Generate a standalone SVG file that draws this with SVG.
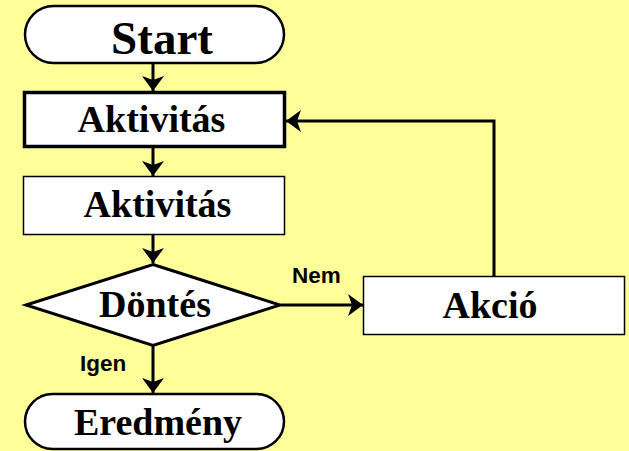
<svg xmlns="http://www.w3.org/2000/svg" width="629" height="451" viewBox="0 0 629 451">
  <defs>
    <marker id="arrow" markerUnits="userSpaceOnUse" markerWidth="24" markerHeight="24" viewBox="-16 -12 18 24" refX="0" refY="0" orient="auto">
      <path d="M0,0 L-15,-11 L-11,0 L-15,11 Z" fill="#000"/>
    </marker>
    <style>
      .node { fill: #fff; stroke: #000; }
      .serif { font-family: "Liberation Serif", "Times New Roman", serif; font-weight: bold; fill: #000; text-anchor: middle; }
      .lbl { font-family: "Liberation Sans", Arial, sans-serif; font-weight: bold; font-size: 22.5px; fill: #000; }
      .conn { fill: none; stroke: #000; stroke-width: 3; marker-end: url(#arrow); }
    </style>
  </defs>

  <rect width="629" height="451" fill="#FFFF99"/>

  <g id="connectors">
    <line class="conn" x1="153" y1="64" x2="153" y2="91"/>
    <line class="conn" x1="153" y1="148" x2="153" y2="176"/>
    <line class="conn" x1="153" y1="235" x2="153" y2="263"/>
    <line class="conn" x1="153" y1="346" x2="153" y2="393"/>
    <line class="conn" x1="281" y1="305" x2="363" y2="305"/>
    <polyline class="conn" points="494,276 494,121 286,121"/>
    <text class="lbl" x="80" y="371">Igen</text>
    <text class="lbl" x="292" y="283">Nem</text>
  </g>

  <g id="start">
    <rect class="node" x="25" y="6" width="259" height="57" rx="28.5" stroke-width="2.5"/>
    <text class="serif" x="162" y="54" font-size="47">Start</text>
  </g>

  <g id="aktivitas1">
    <rect class="node" x="24.5" y="92.5" width="260" height="54" stroke-width="3.5"/>
    <text class="serif" x="151.5" y="132" font-size="38">Aktivitás</text>
  </g>

  <g id="aktivitas2">
    <rect class="node" x="23.5" y="176.5" width="261" height="58" stroke-width="1.5"/>
    <text class="serif" x="157.5" y="217" font-size="38">Aktivitás</text>
  </g>

  <g id="dontes">
    <polygon class="node" points="153,264.5 280,305 153,345.5 26,305" stroke-width="3"/>
    <text class="serif" x="155" y="317" font-size="38">Döntés</text>
  </g>

  <g id="akcio">
    <rect class="node" x="363.5" y="276.5" width="261" height="58" stroke-width="1.5"/>
    <text class="serif" x="490" y="318" font-size="38">Akció</text>
  </g>

  <g id="eredmeny">
    <rect class="node" x="25" y="394" width="259" height="55" rx="27.5" stroke-width="2.5"/>
    <text class="serif" x="158" y="435" font-size="38">Eredmény</text>
  </g>
</svg>
